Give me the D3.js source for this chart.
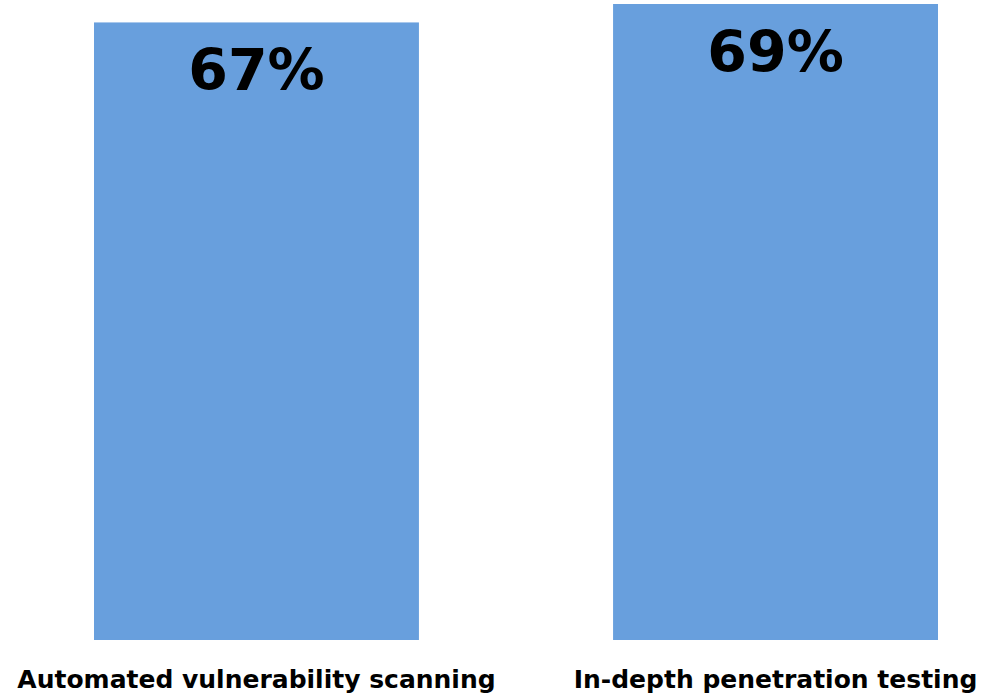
<!DOCTYPE html>
<html>
<head>
<meta charset="utf-8">
<script src="https://cdn.jsdelivr.net/npm/d3@7"></script>
<style>
  html, body { margin: 0; padding: 0; background: #ffffff; }
  svg { display: block; font-family: "DejaVu Sans", Verdana, sans-serif; }
</style>
</head>
<body>
<svg id="chart" width="986" height="695"></svg>
<script>
// Share of respondents using each testing approach
const categories = ["Automated vulnerability scanning", "In-depth penetration testing"];
const values = [67, 69];
const valueLabels = ["67%", "69%"];

const svg = d3.select("#chart");

const x = d3.scaleBand()
  .domain(categories)
  .range([94, 938])
  .paddingInner(0.374)
  .paddingOuter(0);

const y = d3.scaleLinear()
  .domain([0, d3.max(values)])
  .range([640, 4]);

const data = categories.map((c, i) => ({ cat: c, value: values[i], label: valueLabels[i] }));

// bars
svg.append("g").selectAll("rect")
  .data(data)
  .join("rect")
  .attr("x", d => x(d.cat))
  .attr("y", d => y(d.value))
  .attr("width", x.bandwidth())
  .attr("height", d => y(0) - y(d.value))
  .attr("fill", "#689fdd");

// value labels inside the top of each bar
svg.append("g").selectAll("text")
  .data(data)
  .join("text")
  .attr("x", d => x(d.cat) + x.bandwidth() / 2)
  .attr("y", d => y(d.value) + 68)
  .attr("text-anchor", "middle")
  .attr("font-size", 57)
  .attr("font-weight", "bold")
  .attr("fill", "#000")
  .text(d => d.label);

// category axis labels
const xAxis = d3.axisBottom(x).tickSize(0).tickPadding(0);
const gx = svg.append("g")
  .attr("transform", `translate(0,${y(0)})`)
  .call(xAxis);
gx.select(".domain").remove();
gx.selectAll(".tick text")
  .attr("dy", null)
  .attr("y", 48)
  .attr("font-size", 25)
  .attr("font-weight", "bold")
  .attr("font-family", "DejaVu Sans, Verdana, sans-serif")
  .attr("fill", "#000");
</script>
</body>
</html>
